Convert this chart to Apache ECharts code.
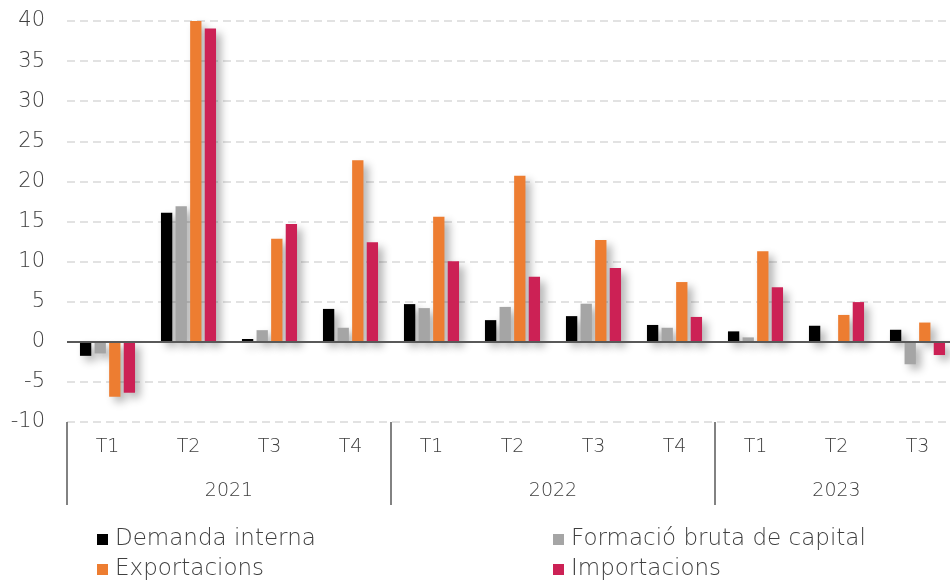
<!DOCTYPE html>
<html>
<head>
<meta charset="utf-8">
<script src="https://cdn.jsdelivr.net/npm/echarts@6/dist/echarts.min.js"></script>
<style>html,body{margin:0;padding:0;background:#fff;}#c{width:950px;height:580px;}</style>
</head>
<body>
<div id="c"></div>
<script>
var quarters = ['T1','T2','T3','T4','T1','T2','T3','T4','T1','T2','T3'];
var yearLabels = ['2021','2022','2023'];
var yearLabelSlots = [4, 12, 19];     // half-quarter slots where year labels sit
var yearSeparatorSlots = [0, 8, 16, 22];
var seriesNames = ['Demanda interna','Formació bruta de capital','Exportacions','Importacions'];
var demandaInterna = [-1.75, 16.1, 0.35, 4.1, 4.7, 2.7, 3.2, 2.1, 1.3, 2.0, 1.5];
var formacioBruta  = [-1.45, 16.9, 1.45, 1.75, 4.2, 4.35, 4.75, 1.75, 0.55, 0, -2.8];
var exportacions   = [-6.85, 40.0, 12.85, 22.65, 15.6, 20.7, 12.7, 7.45, 11.3, 3.35, 2.4];
var importacions   = [-6.35, 39.05, 14.7, 12.4, 10.05, 8.1, 9.2, 3.1, 6.8, 4.95, -1.65];
var colors = ['#000000','#a5a5a5','#ed7d31','#cc2155'];

var FONT = 'DejaVu Sans';
var TXT = '#404040';
var FW = 300;

var yearSlots = [];
for (var i = 0; i < quarters.length * 2 + 1; i++) {
  var k = yearLabelSlots.indexOf(i);
  yearSlots.push(k >= 0 ? yearLabels[k] : '');
}

var dataArr = [demandaInterna, formacioBruta, exportacions, importacions];
var series = dataArr.map(function (d, i) {
  var s = {
    name: seriesNames[i],
    type: 'bar',
    xAxisIndex: 0,
    data: d,
    barGap: '29%',
    barCategoryGap: '32%',
    itemStyle: {
      color: colors[i],
      shadowColor: 'rgba(0,0,0,0.3)',
      shadowBlur: 9,
      shadowOffsetX: 5,
      shadowOffsetY: 5
    },
    emphasis: { disabled: true },
    z: 3
  };
  if (i === 0) {
    s.markLine = {
      silent: true,
      symbol: 'none',
      label: { show: false },
      lineStyle: { color: '#595959', width: 2, type: 'solid' },
      data: [{ yAxis: 0 }],
      z: 5
    };
  }
  return s;
});

var legendPos = [[92, 523], [548, 523], [92, 553], [548, 553]];
var legends = [0, 1, 2, 3].map(function (si, j) {
  return {
    data: [seriesNames[si]],
    orient: 'horizontal',
    left: legendPos[j][0], top: legendPos[j][1],
    itemWidth: 11, itemHeight: 11, itemGap: 0,
    icon: 'rect',
    textStyle: { fontFamily: FONT, fontSize: 23, fontWeight: FW, color: TXT, padding: [0, 0, 0, 2] },
    selectedMode: false
  };
});

var chart = echarts.init(document.getElementById('c'), null, { renderer: 'canvas' });
chart.setOption({
  animation: false,
  backgroundColor: '#ffffff',
  textStyle: { fontFamily: FONT },
  grid: { left: 67, width: 891, top: 21, bottom: 158, containLabel: false, outerBoundsMode: 'none' },
  legend: legends,
  xAxis: [
    {
      type: 'category',
      position: 'bottom',
      data: quarters,
      axisLine: { show: false, onZero: false },
      axisTick: { show: false },
      axisLabel: { margin: 16, fontSize: 19, fontWeight: FW, color: TXT, fontFamily: FONT },
      splitLine: { show: false }
    },
    {
      type: 'category',
      position: 'bottom',
      offset: 0,
      boundaryGap: false,
      data: yearSlots,
      axisLine: { show: false, onZero: false },
      axisTick: {
        show: true,
        length: 83,
        interval: function (idx) { return yearSeparatorSlots.indexOf(idx) >= 0; },
        lineStyle: { color: '#595959', width: 1.5 }
      },
      axisLabel: {
        margin: 60, fontSize: 19, fontWeight: FW, color: TXT, fontFamily: FONT,
        interval: function (idx) { return yearLabelSlots.indexOf(idx) >= 0; }
      },
      splitLine: { show: false }
    }
  ],
  yAxis: {
    type: 'value',
    min: -10, max: 40, interval: 5,
    axisLine: { show: false },
    axisTick: { show: false },
    axisLabel: { margin: 22, fontSize: 21, fontWeight: FW, color: TXT, fontFamily: FONT },
    splitLine: { show: true, lineStyle: { color: '#d9d9d9', type: [8, 5], width: 1.5 } }
  },
  series: series
});
</script>
</body>
</html>
